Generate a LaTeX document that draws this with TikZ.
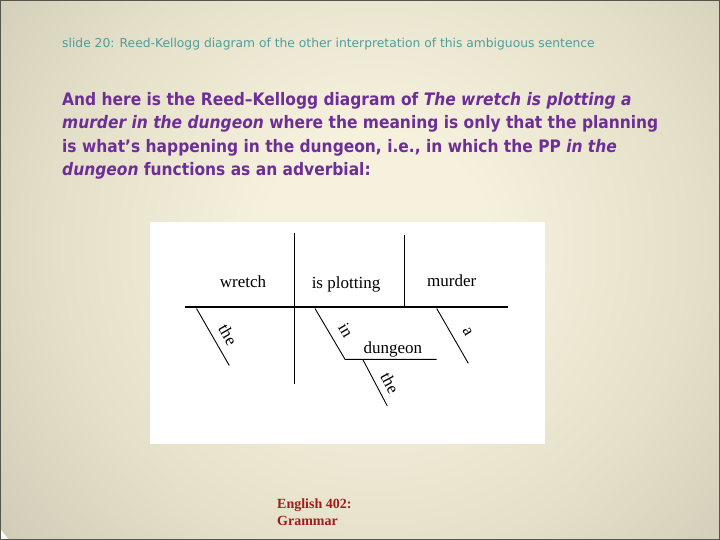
\documentclass[tikz,border=0pt]{standalone}
\usepackage{fontspec}
\setmainfont{Liberation Serif}
\newfontfamily\slidesans{DejaVu Sans Condensed}
\newfontfamily\titlesans{DejaVu Sans}
\definecolor{bgcenter}{HTML}{F6F1DD}
\definecolor{bgmid}{HTML}{E4DFC8}
\definecolor{bgedge}{HTML}{959486}
\definecolor{titleteal}{HTML}{4E9E9C}
\definecolor{bodypurple}{HTML}{6E2E98}
\definecolor{footred}{HTML}{A01C1C}
\definecolor{framegray}{HTML}{55554C}
\pgfdeclareradialshading{slidebg}{\pgfpoint{0bp}{0bp}}{color(0bp)=(bgcenter); color(6bp)=(bgcenter); color(17bp)=(bgmid); color(50bp)=(bgedge)}
\tikzset{
  titletext/.style={anchor=base west, inner sep=0pt, text=titleteal, font=\titlesans\fontsize{12.3}{15}\selectfont},
  bodytext/.style={anchor=base west, inner sep=0pt, text=bodypurple, font=\slidesans\bfseries\fontsize{17.2}{21}\selectfont},
  foottext/.style={anchor=base west, inner sep=0pt, text=footred, font=\bfseries\fontsize{14}{16}\selectfont},
  word/.style={anchor=base, inner sep=0pt, font=\fontsize{17}{19}\selectfont},
  slantword/.style={sloped, anchor=south, inner xsep=0pt, font=\fontsize{17}{19}\selectfont},
  mainline/.style={line width=1.8pt},
  thinline/.style={line width=0.9pt}
}
\begin{document}
\begin{tikzpicture}[x=1pt,y=-1pt]
\useasboundingbox (0,0) rectangle (720,540);
% background
\begin{scope}
\clip (0,0) rectangle (720,540);
\shade[shading=slidebg] (375,245) circle (470);
\end{scope}
\draw[framegray, line width=1pt] (0.5,0.5) rectangle (719.5,539.5);
% title
\node[titletext] (title) at (62,47.3) {slide 20: Reed-Kellogg diagram of the other interpretation of this ambiguous sentence};
% body
\node[bodytext] (l1) at (62,105.7) {And here is the Reed–Kellogg diagram of \textit{The wretch is plotting a}};
\node[bodytext] (l2) at (62,129) {\textit{murder in the dungeon} where the meaning is only that the planning};
\node[bodytext] (l3) at (62,152.2) {is what’s happening in the dungeon, i.e., in which the PP \textit{in the}};
\node[bodytext] (l4) at (62,175.4) {\textit{dungeon} functions as an adverbial:};
% diagram panel
\fill[white] (150,222) rectangle (545,444);
\coordinate (hL) at (185,307.3);
\coordinate (hR) at (508,307.3);
\coordinate (v1T) at (294.3,233);
\coordinate (v1B) at (294.3,383.5);
\coordinate (v2T) at (404.3,235);
\coordinate (v2B) at (404.3,307.3);
\coordinate (t1a) at (196.5,308.5);
\coordinate (t1b) at (229.3,365.5);
\coordinate (inA) at (315,308.5);
\coordinate (inB) at (345,359.3);
\coordinate (dR) at (436.7,359.3);
\coordinate (t2a) at (362.7,359.3);
\coordinate (t2b) at (387.3,406);
\coordinate (aA) at (436.7,308.5);
\coordinate (aB) at (468.3,363.3);
\draw[mainline] (hL) -- (hR);
\draw[thinline] (v1T) -- (v1B);
\draw[thinline] (v2T) -- (v2B);
\draw[thinline] (t1a) -- node[slantword, pos=0.585, inner ysep=7.8pt] (the1) {the} (t1b);
\draw[thinline] (inA) -- node[slantword, pos=0.59, inner ysep=9.3pt] (in) {in} (inB) -- (dR);
\draw[thinline] (t2a) -- node[slantword, pos=0.64, inner ysep=6.5pt] (the2) {the} (t2b);
\draw[thinline] (aA) -- node[slantword, pos=0.566, inner ysep=10.2pt] (a) {a} (aB);
\node[word] (wretch) at (243,287.7) {wretch};
\node[word] (plot) at (346,288.3) {is plotting};
\node[word] (murder) at (451.7,286.7) {murder};
\node[word] (dungeon) at (392.8,353.3) {dungeon};
% footer
\node[foottext] (f1) at (277,508.3) {English 402:};
\node[foottext] (f2) at (277,525.7) {Grammar};
\end{tikzpicture}
\end{document}
